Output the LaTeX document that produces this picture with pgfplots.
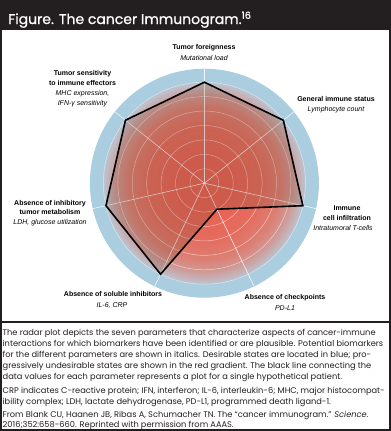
\documentclass[border=0pt]{standalone}
\usepackage{pgfplots}
\pgfplotsset{compat=1.18}
\usepackage{fontspec}
\setmainfont{Liberation Sans}
\newfontfamily\pop{Poppins}
\newfontfamily\popb{Poppins}[FakeBold=0.8]
\definecolor{dark}{HTML}{231F20}
\definecolor{ringblue}{RGB}{170,206,223}
\definecolor{redc}{RGB}{233,98,84}
\definecolor{redmid}{RGB}{229,108,94}
\definecolor{redlt}{RGB}{220,128,116}
\definecolor{redpale}{RGB}{207,155,152}
\definecolor{edgec}{RGB}{188,196,209}
\definecolor{polyfill}{RGB}{110,70,50}
\pgfdeclareradialshading{immuno}{\pgfpoint{0bp}{0bp}}{color(0bp)=(redc); color(7bp)=(redc); color(14bp)=(redmid); color(19bp)=(redlt); color(22bp)=(redpale); color(25bp)=(edgec); color(50bp)=(edgec)}
\begin{document}
\begin{tikzpicture}[x=1bp,y=1bp]
\useasboundingbox (0,0) rectangle (391,-431);
\fill[white] (0,0) rectangle (391,-431);
\fill[dark] (0,0) rectangle (391,-30);
\draw[dark,line width=2bp] (1,-1) rectangle (390,-430);
\draw[dark,line width=1.5bp] (0,-322) -- (391,-322);
\node[anchor=base west,text=white,inner sep=0,font=\popb\fontsize{14bp}{15bp}\selectfont] at (8,-24) {Figure. The cancer Immunogram.\textsuperscript{16}};
% radar background
\begin{scope}[shift={(204.4,-183.2)}]
\fill[ringblue] (0,0) circle (114.5);
\shade[shading=immuno] (0,0) circle (101);
\foreach \k in {1,...,7} \draw[white,opacity=.55,line width=.5bp] (0,0) circle ({\k*101/7});
\foreach \a in {90,38.571,-12.857,-64.286,-115.714,-167.143,141.429}
  \draw[white,opacity=.85,line width=.6bp] (0,0) -- (\a:114.5);
\end{scope}
\begin{axis}[at={(204.4bp,-183.2bp)}, anchor=origin, x=14.4286bp, y=14.4286bp,
  xmin=-8, xmax=8, ymin=-8, ymax=8, hide axis, clip=false]
\addplot[data cs=polar, black, line width=1.6bp, line join=miter, fill=polyfill, fill opacity=0.22]
  coordinates {(90,7) (38.571,7) (-12.857,7) (-64.286,2) (-115.714,7) (-167.143,7) (141.429,7)} -- cycle;
\end{axis}
% labels
\begin{scope}[every node/.style={anchor=base,inner sep=0,font=\fontsize{7bp}{9bp}\selectfont}]
\node[font=\bfseries\fontsize{7bp}{9bp}\selectfont] at (204,-49.3) {Tumor foreignness};
\node[font=\itshape\fontsize{7bp}{9bp}\selectfont] at (204,-60.3) {Mutational load};
\node[font=\bfseries\fontsize{7bp}{9bp}\selectfont] at (336,-101.3) {General immune status};
\node[font=\itshape\fontsize{7bp}{9bp}\selectfont] at (336,-111.3) {Lymphocyte count};
\node[font=\bfseries\fontsize{7bp}{9bp}\selectfont] at (347,-210) {Immune};
\node[font=\bfseries\fontsize{7bp}{9bp}\selectfont] at (347,-220.3) {cell infiltration};
\node[font=\itshape\fontsize{7bp}{9bp}\selectfont] at (343,-230.3) {Intratumoral T-cells};
\node[font=\bfseries\fontsize{7bp}{9bp}\selectfont] at (285,-299) {Absence of checkpoints};
\node[font=\itshape\fontsize{7bp}{9bp}\selectfont] at (285,-310) {PD-L1};
\node[font=\bfseries\fontsize{7bp}{9bp}\selectfont] at (113,-296.3) {Absence of soluble inhibitors};
\node[font=\itshape\fontsize{7bp}{9bp}\selectfont] at (112,-307.3) {IL-6, CRP};
\node[font=\bfseries\fontsize{7bp}{9bp}\selectfont] at (50,-205) {Absence of inhibitory};
\node[font=\bfseries\fontsize{7bp}{9bp}\selectfont] at (50,-214.6) {tumor metabolism};
\node[font=\itshape\fontsize{7bp}{9bp}\selectfont] at (50,-224.6) {LDH, glucose utilization};
\node[font=\bfseries\fontsize{7bp}{9bp}\selectfont] at (82.5,-75.6) {Tumor sensitivity};
\node[font=\bfseries\fontsize{7bp}{9bp}\selectfont] at (82.5,-85.6) {to immune effectors};
\node[font=\itshape\fontsize{7bp}{9bp}\selectfont] at (82.5,-95) {MHC expression,};
\node[font=\itshape\fontsize{7bp}{9bp}\selectfont] at (82.5,-105) {IFN-γ sensitivity};
\end{scope}
% caption
\begin{scope}[every node/.style={anchor=base west,inner sep=0,text=dark,font=\pop\fontsize{8.25bp}{10bp}\selectfont}]
\node at (2.5,-335) {The radar plot depicts the seven parameters that characterize aspects of cancer-immune};
\node at (2.5,-346.2) {interactions for which biomarkers have been identified or are plausible. Potential biomarkers};
\node at (2.5,-357.4) {for the different parameters are shown in italics. Desirable states are located in blue; pro-};
\node at (2.5,-368.6) {gressively undesirable states are shown in the red gradient. The black line connecting the};
\node at (2.5,-379.8) {data values for each parameter represents a plot for a single hypothetical patient.};
\node at (2.5,-393) {CRP indicates C-reactive protein; IFN, interferon; IL-6, interleukin-6; MHC, major histocompat-};
\node at (2.5,-404.2) {ibility complex; LDH, lactate dehydrogenase, PD-L1, programmed death ligand-1.};
\node at (2.5,-417) {From Blank CU, Haanen JB, Ribas A, Schumacher TN. The “cancer immunogram.” \textit{Science}.};
\node at (2.5,-427.4) {2016;352:658-660. Reprinted with permission from AAAS.};
\end{scope}
\end{tikzpicture}
\end{document}
